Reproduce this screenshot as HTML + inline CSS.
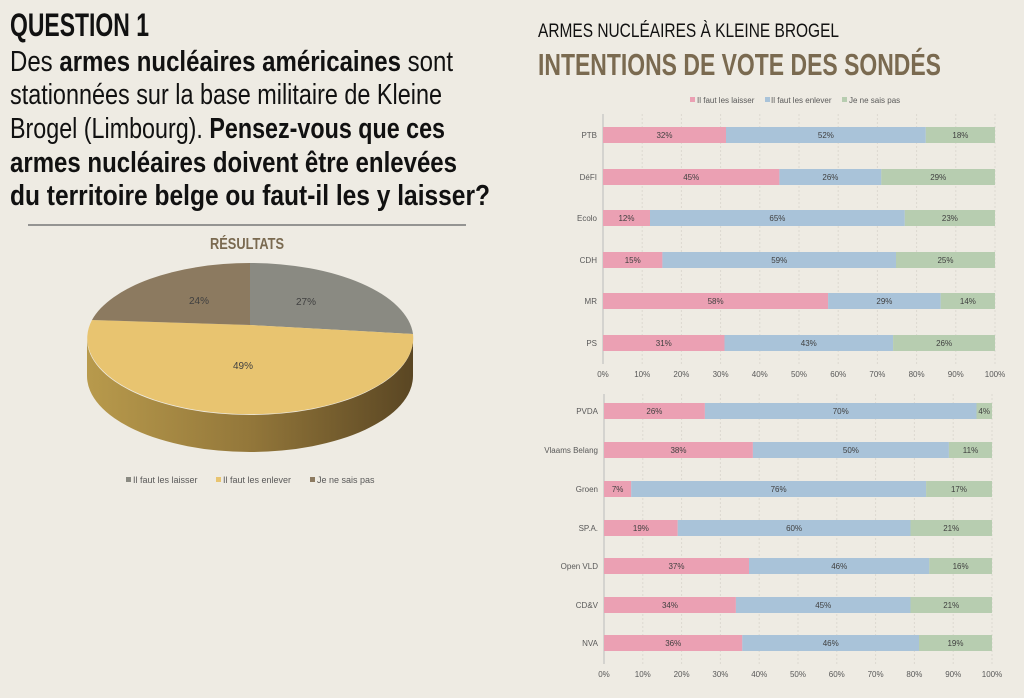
<!DOCTYPE html><html><head><meta charset="utf-8"><style>body{margin:0;background:#eeebe3}svg{display:block}</style></head><body>
<svg width="1024" height="698" viewBox="0 0 1024 698" xmlns="http://www.w3.org/2000/svg" font-family="Liberation Sans, sans-serif">
<defs>
<linearGradient id="side" x1="0" x2="1" y1="0" y2="0"><stop offset="0" stop-color="#b89a4c"/><stop offset="0.5" stop-color="#93773a"/><stop offset="1" stop-color="#5a4623"/></linearGradient>
</defs>
<rect width="1024" height="698" fill="#eeebe3"/>
<g font-family="Liberation Sans Narrow, Liberation Sans, sans-serif" fill="#111">
<text x="10" y="36" font-size="32" font-weight="bold" textLength="139" lengthAdjust="spacingAndGlyphs">QUESTION 1</text>
<text x="10" y="71" font-size="29" textLength="443" lengthAdjust="spacingAndGlyphs">Des <tspan font-weight="bold">armes nucléaires américaines</tspan> sont</text>
<text x="10" y="104" font-size="29" textLength="432" lengthAdjust="spacingAndGlyphs">stationnées sur la base militaire de Kleine</text>
<text x="10" y="138" font-size="29" textLength="435" lengthAdjust="spacingAndGlyphs">Brogel (Limbourg). <tspan font-weight="bold">Pensez-vous que ces</tspan></text>
<text x="10" y="172" font-size="29" font-weight="bold" textLength="447" lengthAdjust="spacingAndGlyphs">armes nucléaires doivent être enlevées</text>
<text x="10" y="205" font-size="29" font-weight="bold" textLength="480" lengthAdjust="spacingAndGlyphs">du territoire belge ou faut-il les y laisser?</text>
<text x="538" y="37" font-size="19" textLength="301" lengthAdjust="spacingAndGlyphs">ARMES NUCLÉAIRES À KLEINE BROGEL</text>
<text x="538" y="75" font-size="31" font-weight="bold" fill="#7a6a50" textLength="403" lengthAdjust="spacingAndGlyphs">INTENTIONS DE VOTE DES SONDÉS</text>
<text x="210" y="249" font-size="16" font-weight="bold" fill="#7a6a50" textLength="74" lengthAdjust="spacingAndGlyphs">RÉSULTATS</text>
</g>
<line x1="28" y1="225" x2="466" y2="225" stroke="#777" stroke-width="1.5"/>
<path d="M87,339 L87,376 A163,76 0 0 0 413,376 L413,339 A163,76 0 0 1 87,339 Z" fill="url(#side)"/>
<path d="M250,325 L250,263 A163,76 0 0 1 413,334 Z" fill="#8a8a82"/>
<path d="M250,325 L413,334 A163,76 0 1 1 92,320 Z" fill="#e8c470"/>
<path d="M250,325 L92,320 A163,76 0 0 1 250,263 Z" fill="#8c7a60"/>
<g font-size="10" fill="#404040" text-anchor="middle">
<text x="306" y="305">27%</text><text x="243" y="369">49%</text><text x="199" y="304">24%</text>
</g>
<g font-size="9" fill="#595959">
<rect x="126" y="477" width="5" height="5" fill="#8a8a82"/><text x="133" y="483">Il faut les laisser</text>
<rect x="216" y="477" width="5" height="5" fill="#e8c470"/><text x="223" y="483">Il faut les enlever</text>
<rect x="310" y="477" width="5" height="5" fill="#8c7a60"/><text x="317" y="483">Je ne sais pas</text>
</g>
<g font-size="8" fill="#595959">
<rect x="690" y="97" width="5" height="5" fill="#eba0b3"/><text x="697" y="103">Il faut les laisser</text>
<rect x="765" y="97" width="5" height="5" fill="#a9c3d9"/><text x="771" y="103">Il faut les enlever</text>
<rect x="842" y="97" width="5" height="5" fill="#b7cdb0"/><text x="849" y="103">Je ne sais pas</text>
</g>
<g stroke="#dcd9d0" stroke-dasharray="2,2">
<line x1="642.2" y1="114" x2="642.2" y2="364"/><line x1="681.4" y1="114" x2="681.4" y2="364"/><line x1="720.6" y1="114" x2="720.6" y2="364"/><line x1="759.8" y1="114" x2="759.8" y2="364"/><line x1="799" y1="114" x2="799" y2="364"/><line x1="838.2" y1="114" x2="838.2" y2="364"/><line x1="877.4" y1="114" x2="877.4" y2="364"/><line x1="916.6" y1="114" x2="916.6" y2="364"/><line x1="955.8" y1="114" x2="955.8" y2="364"/><line x1="995" y1="114" x2="995" y2="364"/>
<line x1="642.8" y1="394" x2="642.8" y2="664"/><line x1="681.6" y1="394" x2="681.6" y2="664"/><line x1="720.4" y1="394" x2="720.4" y2="664"/><line x1="759.2" y1="394" x2="759.2" y2="664"/><line x1="798" y1="394" x2="798" y2="664"/><line x1="836.8" y1="394" x2="836.8" y2="664"/><line x1="875.6" y1="394" x2="875.6" y2="664"/><line x1="914.4" y1="394" x2="914.4" y2="664"/><line x1="953.2" y1="394" x2="953.2" y2="664"/><line x1="992" y1="394" x2="992" y2="664"/>
</g>
<line x1="603" y1="114" x2="603" y2="364" stroke="#bbb"/>
<line x1="604" y1="394" x2="604" y2="664" stroke="#bbb"/>
<g font-size="8" fill="#595959" text-anchor="middle">
<text x="603" y="377">0%</text><text x="642.2" y="377">10%</text><text x="681.4" y="377">20%</text><text x="720.6" y="377">30%</text><text x="759.8" y="377">40%</text><text x="799" y="377">50%</text><text x="838.2" y="377">60%</text><text x="877.4" y="377">70%</text><text x="916.6" y="377">80%</text><text x="955.8" y="377">90%</text><text x="995" y="377">100%</text>
<text x="604" y="677">0%</text><text x="642.8" y="677">10%</text><text x="681.6" y="677">20%</text><text x="720.4" y="677">30%</text><text x="759.2" y="677">40%</text><text x="798" y="677">50%</text><text x="836.8" y="677">60%</text><text x="875.6" y="677">70%</text><text x="914.4" y="677">80%</text><text x="953.2" y="677">90%</text><text x="992" y="677">100%</text>
</g>
<g font-size="8" fill="#595959" text-anchor="end">
<text x="597" y="138">PTB</text><text x="597" y="180">DéFI</text><text x="597" y="221">Ecolo</text><text x="597" y="263">CDH</text><text x="597" y="304">MR</text><text x="597" y="346">PS</text>
<text x="598" y="414">PVDA</text><text x="598" y="453">Vlaams Belang</text><text x="598" y="492">Groen</text><text x="598" y="531">SP.A.</text><text x="598" y="569">Open VLD</text><text x="598" y="608">CD&amp;V</text><text x="598" y="646">NVA</text>
</g>
<g fill="#eba0b3">
<rect x="603" y="127" width="123" height="16"/><rect x="603" y="169" width="176.4" height="16"/><rect x="603" y="210" width="47" height="16"/><rect x="603" y="252" width="59.4" height="16"/><rect x="603" y="293" width="225.1" height="16"/><rect x="603" y="335" width="121.5" height="16"/>
<rect x="604" y="403" width="100.9" height="16"/><rect x="604" y="442" width="148.9" height="16"/><rect x="604" y="481" width="27.2" height="16"/><rect x="604" y="520" width="73.7" height="16"/><rect x="604" y="558" width="145" height="16"/><rect x="604" y="597" width="131.9" height="16"/><rect x="604" y="635" width="138.3" height="16"/>
</g>
<g fill="#a9c3d9">
<rect x="726" y="127" width="199.8" height="16"/><rect x="779.4" y="169" width="101.9" height="16"/><rect x="650" y="210" width="254.8" height="16"/><rect x="662.4" y="252" width="233.6" height="16"/><rect x="828.1" y="293" width="112.6" height="16"/><rect x="724.5" y="335" width="168.6" height="16"/>
<rect x="704.9" y="403" width="271.6" height="16"/><rect x="752.9" y="442" width="196" height="16"/><rect x="631.2" y="481" width="294.9" height="16"/><rect x="677.7" y="520" width="232.8" height="16"/><rect x="749" y="558" width="180.3" height="16"/><rect x="735.9" y="597" width="174.6" height="16"/><rect x="742.3" y="635" width="176.7" height="16"/>
</g>
<g fill="#b7cdb0">
<rect x="925.8" y="127" width="69.2" height="16"/><rect x="881.3" y="169" width="113.7" height="16"/><rect x="904.8" y="210" width="90.2" height="16"/><rect x="896" y="252" width="99" height="16"/><rect x="940.7" y="293" width="54.3" height="16"/><rect x="893.1" y="335" width="101.9" height="16"/>
<rect x="976.5" y="403" width="15.5" height="16"/><rect x="948.9" y="442" width="43.1" height="16"/><rect x="926.1" y="481" width="65.9" height="16"/><rect x="910.5" y="520" width="81.5" height="16"/><rect x="929.3" y="558" width="62.7" height="16"/><rect x="910.5" y="597" width="81.5" height="16"/><rect x="919" y="635" width="73" height="16"/>
</g>
<g font-size="8" fill="#404040" text-anchor="middle">
<text x="664.5" y="138">32%</text><text x="825.9" y="138">52%</text><text x="960.4" y="138">18%</text>
<text x="691.2" y="180">45%</text><text x="830.4" y="180">26%</text><text x="938.2" y="180">29%</text>
<text x="626.5" y="221">12%</text><text x="777.4" y="221">65%</text><text x="949.9" y="221">23%</text>
<text x="632.7" y="263">15%</text><text x="779.2" y="263">59%</text><text x="945.5" y="263">25%</text>
<text x="715.6" y="304">58%</text><text x="884.4" y="304">29%</text><text x="967.9" y="304">14%</text>
<text x="663.8" y="346">31%</text><text x="808.8" y="346">43%</text><text x="944.1" y="346">26%</text>
<text x="654.4" y="414">26%</text><text x="840.7" y="414">70%</text><text x="984.2" y="414">4%</text>
<text x="678.5" y="453">38%</text><text x="850.9" y="453">50%</text><text x="970.5" y="453">11%</text>
<text x="617.6" y="492">7%</text><text x="778.6" y="492">76%</text><text x="959" y="492">17%</text>
<text x="640.9" y="531">19%</text><text x="794.1" y="531">60%</text><text x="951.2" y="531">21%</text>
<text x="676.5" y="569">37%</text><text x="839.2" y="569">46%</text><text x="960.6" y="569">16%</text>
<text x="670" y="608">34%</text><text x="823.2" y="608">45%</text><text x="951.2" y="608">21%</text>
<text x="673.2" y="646">36%</text><text x="830.7" y="646">46%</text><text x="955.5" y="646">19%</text>
</g>
</svg>
</body></html>
